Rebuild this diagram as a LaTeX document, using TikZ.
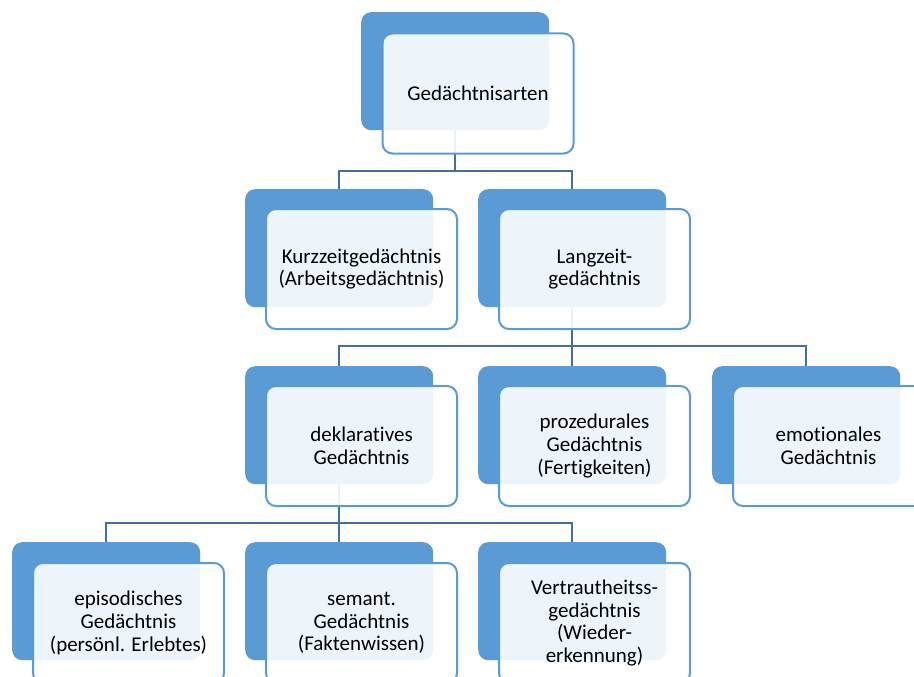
\documentclass[tikz,border=0pt]{standalone}
\usepackage{fontspec}
\setmainfont{Carlito}[Ligatures=NoCommon]
\usetikzlibrary{calc}
\definecolor{backblue}{HTML}{5B9BD5}
\definecolor{connblue}{HTML}{41719C}
\tikzset{
  backbox/.style={draw=none, fill=backblue, rounded corners=10pt, minimum width=188pt, minimum height=118pt, anchor=north west, inner sep=0pt},
  frontbox/.style={draw=backblue, line width=2pt, fill=white, fill opacity=0.9, text opacity=1, rounded corners=10pt, minimum width=191pt, minimum height=120pt, anchor=north west, inner sep=2pt, align=center, font=\fontsize{21}{22.7}\selectfont},
  conn/.style={draw=connblue, line width=2pt},
}
\begin{document}
\begin{tikzpicture}[x=1pt,y=-1pt]
\useasboundingbox (0,0) rectangle (914,677);
\clip (0,0) rectangle (914,677);
\fill[white] (0,0) rectangle (914,677);
% back boxes
\node[backbox] (b1) at (361,12) {};
\node[backbox] (b2) at (245,189) {};
\node[backbox] (b3) at (478,189) {};
\node[backbox] (b4) at (245,366) {};
\node[backbox] (b5) at (478,366) {};
\node[backbox] (b6) at (712,366) {};
\node[backbox] (b7) at (12,542) {};
\node[backbox] (b8) at (245,542) {};
\node[backbox] (b9) at (478,542) {};
% connectors
\coordinate (m1) at (0,171);
\coordinate (m2) at (0,346);
\coordinate (m3) at (0,523);
\draw[conn] (b1.south) -- (b1.south |- m1) -| (b2.north);
\draw[conn] (b1.south |- m1) -| (b3.north);
\draw[conn] (b3.south) -- (b3.south |- m2) -| (b4.north);
\draw[conn] (b3.south |- m2) -| (b5.north);
\draw[conn] (b3.south |- m2) -| (b6.north);
\draw[conn] (b4.south) -- (b4.south |- m3) -| (b7.north);
\draw[conn] (b4.south |- m3) -| (b8.north);
\draw[conn] (b4.south |- m3) -| (b9.north);
% front boxes
\node[frontbox] (f1) at (381.5,32.5) {Gedächtnisarten};
\node[frontbox] (f2) at (265,208) {Kurzzeitgedächtnis\\(Arbeitsgedächtnis)};
\node[frontbox] (f3) at (498,208) {Langzeit-\\gedächtnis};
\node[frontbox] (f4) at (265,385) {deklaratives\\Gedächtnis};
\node[frontbox] (f5) at (498,385) {prozedurales\\Gedächtnis\\(Fertigkeiten)};
\node[frontbox] (f6) at (732,385) {emotionales\\Gedächtnis};
\node[frontbox] (f7) at (32,562) {episodisches\\Gedächtnis\\(persönl. Erlebtes)};
\node[frontbox] (f8) at (265,562) {semant.\\Gedächtnis\\(Faktenwissen)};
\node[frontbox] (f9) at (498,562) {Vertrautheitss-\\gedächtnis\\(Wieder-\\erkennung)};
\end{tikzpicture}
\end{document}
